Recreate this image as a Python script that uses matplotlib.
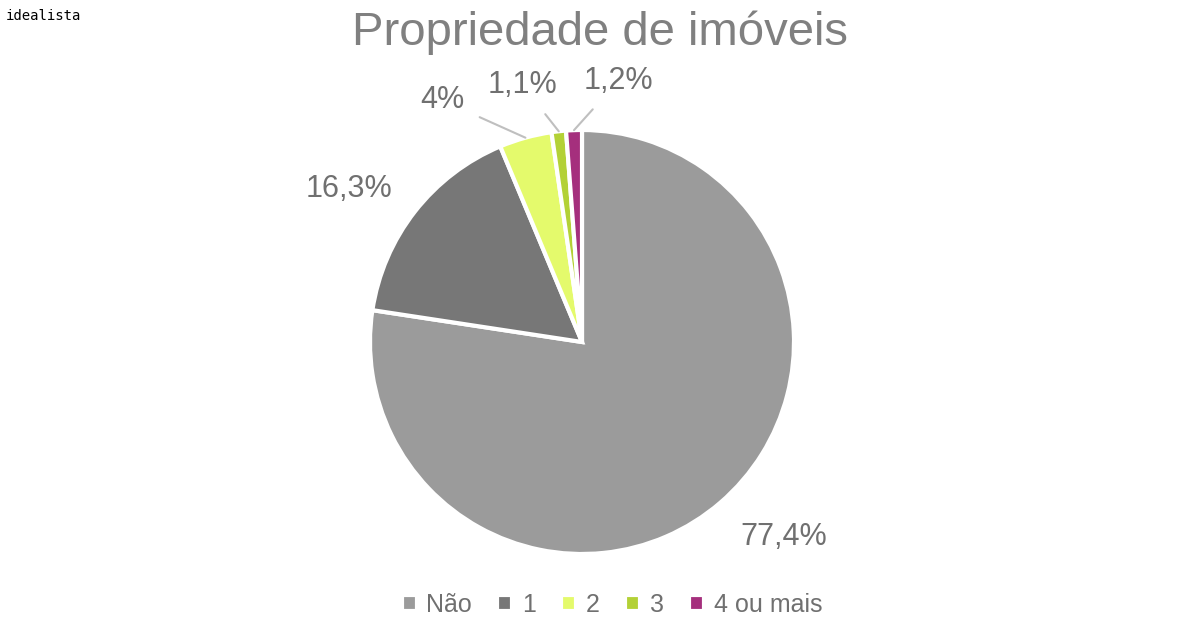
import numpy as np
import matplotlib.pyplot as plt

categories = ["Não", "1", "2", "3", "4 ou mais"]
values = [77.4, 16.3, 4.0, 1.1, 1.2]
labels = ["77,4%", "16,3%", "4%", "1,1%", "1,2%"]
colors = ["#9b9b9b", "#777777", "#e4fa6c", "#b3d136", "#a52f7d"]

plt.rcParams['font.family'] = ['Liberation Sans', 'DejaVu Sans']
fig = plt.figure(figsize=(12, 6.27), dpi=100)
w, h = 424 / 1200, 424 / 627
cx, cy = 582 / 1200, 1 - 342 / 627
ax = fig.add_axes([cx - w / 2, cy - h / 2, w, h])
wedges, _ = ax.pie(values, colors=colors, startangle=90, counterclock=False,
                   wedgeprops=dict(edgecolor="white", linewidth=3))
ax.set_xlim(-1, 1)
ax.set_ylim(-1, 1)
ax.set_aspect("equal")

# label offsets in units of the radius (layout only)
label_pos = [(0.95, -0.92), (-1.10, 0.72), (-0.66, 1.14), (-0.28, 1.21), (0.17, 1.23)]
lead = [False, False, True, True, True]
for wdg, lab, pos, ld in zip(wedges, labels, label_pos, lead):
    ang = np.deg2rad((wdg.theta1 + wdg.theta2) / 2)
    tip = (np.cos(ang), np.sin(ang))
    if ld:
        ax.annotate(lab, xy=tip, xytext=pos, fontsize=22, color="#707070",
                    ha="center", va="center",
                    arrowprops=dict(arrowstyle="-", color="#bfbfbf", lw=1.5,
                                    shrinkA=10, shrinkB=0))
    else:
        ax.text(*pos, lab, fontsize=22, color="#707070", ha="center", va="center")

fig.text(0.5, 0.947, "Propriedade de imóveis", fontsize=34, color="#808080",
         ha="center", va="center")
fig.text(0.005, 0.975, "idealista", fontsize=10, family="DejaVu Sans Mono",
         ha="left", va="center")
fig.legend(wedges, categories, loc="center", bbox_to_anchor=(0.51, 0.035),
           ncol=5, frameon=False, fontsize=18, labelcolor="#707070",
           handlelength=0.6, handleheight=0.6, handletextpad=0.4, columnspacing=1.0)
fig.savefig("out.png")
